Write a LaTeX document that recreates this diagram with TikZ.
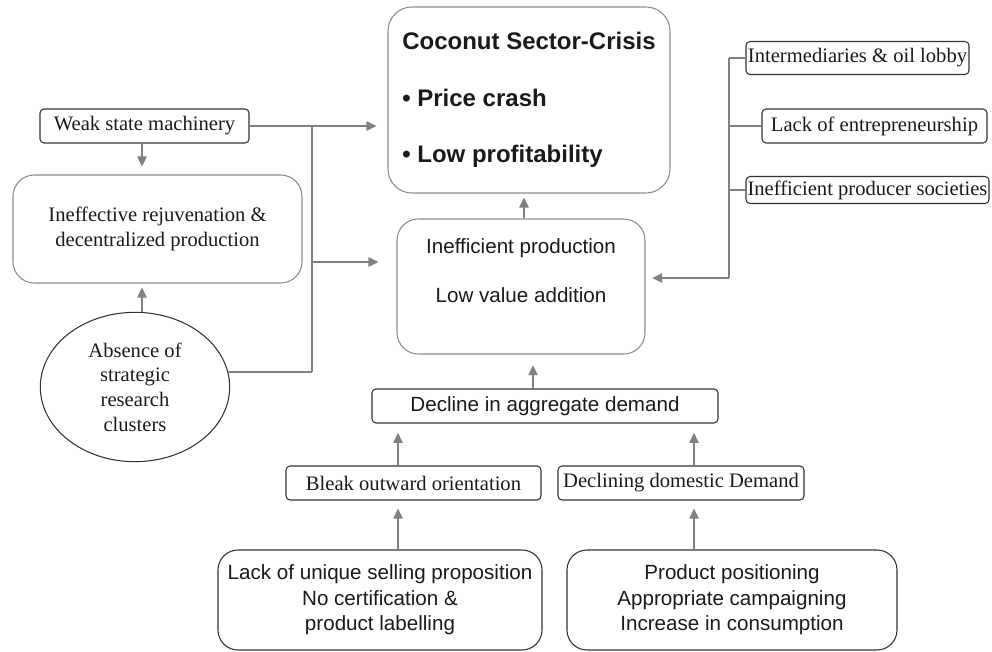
\documentclass[tikz,border=0pt]{standalone}
\usepackage{fontspec}
\setmainfont{Liberation Serif}
\setsansfont{Liberation Sans}
\usetikzlibrary{arrows.meta,calc,shapes.geometric}
\definecolor{linegray}{HTML}{808080}
\definecolor{boxgray}{HTML}{8C8C8C}
\definecolor{boxdark}{HTML}{333333}
\definecolor{ink}{HTML}{1A1A1A}
\begin{document}
\begin{tikzpicture}[x=0.75pt,y=-0.75pt,
  every node/.style={text=ink},
  tagbox/.style={draw=boxdark, line width=0.8pt, rounded corners=3pt, inner sep=0pt,
    minimum height=25.5pt, font=\fontsize{15.45}{18.75}\selectfont},
  softbox/.style={draw=boxgray, line width=0.8pt, rounded corners=16pt, inner sep=0pt, align=center},
  darkbox/.style={draw=boxdark, line width=0.8pt, rounded corners=15pt, inner sep=0pt, align=center,
    minimum width=243pt, minimum height=75pt, font=\sffamily\fontsize{15.45}{19.1}\selectfont},
  link/.style={draw=linegray, line width=1.1pt},
  arr/.style={link, -{Triangle[length=7.5pt,width=7pt]}},
]
\useasboundingbox (0,0) rectangle (992,652);

% central chain
\node[softbox, align=left, rounded corners=18pt, minimum width=211.5pt, minimum height=139.5pt,
  font=\sffamily\bfseries\fontsize{18}{42.4}\selectfont] (crisis) at (529,100)
  {Coconut Sector-Crisis\\\textbullet{} Price crash\\\textbullet{} Low profitability};
\node[softbox, minimum width=186pt, minimum height=101.25pt,
  font=\sffamily\fontsize{15.45}{18.4}\selectfont] (prod) at (521,286.5)
  {Inefficient production\\\strut\\Low value addition\\\strut};
\node[tagbox, minimum width=259.5pt, font=\sffamily\fontsize{15.45}{18.75}\selectfont] (decline) at (545,406)
  {Decline in aggregate demand};
\node[tagbox, minimum width=191.25pt] (bleak) at (413.5,483) {Bleak outward orientation};
\node[tagbox, minimum width=184.5pt] (domestic) at (681,483) {Declining domestic Demand};
\node[darkbox] (usp) at (380,600)
  {Lack of unique selling proposition\\No certification \&\\product labelling};
\node[darkbox, minimum width=247.5pt] (campaign) at (732,600)
  {Product positioning\\Appropriate campaigning\\Increase in consumption};

% left side
\node[tagbox, minimum width=156.75pt] (weak) at (144.5,126) {Weak state machinery};
\node[softbox, minimum width=216.75pt, minimum height=81pt,
  font=\fontsize{15.45}{18.75}\selectfont] (rejuv) at (157.5,229)
  {Ineffective rejuvenation \&\\decentralized production};
\node[draw=boxdark, line width=0.8pt, ellipse, inner sep=0pt, minimum width=142pt, minimum height=112pt,
  align=center, font=\fontsize{15.45}{18.5}\selectfont] (absence) at (135,387)
  {Absence of\\strategic\\research\\clusters};

% right side
\node[tagbox, minimum width=167.25pt, minimum height=24.75pt] (lobby) at (857.5,58)
  {Intermediaries \& oil lobby};
\node[tagbox, minimum width=168.75pt] (entre) at (874.5,126) {Lack of entrepreneurship};
\node[tagbox, minimum width=182.25pt, minimum height=20.25pt] (societies) at (867.5,190)
  {Inefficient producer societies};

% junctions of the connector trunks
\coordinate (ltop) at (312,126);
\coordinate (lmid) at (312,262);
\coordinate (lbot) at (312,372);
\coordinate (rbot) at (729,278);

% feet of the vertical arrows
\coordinate (weakfoot) at ($(weak.south)+(-2.5,0)$);
\coordinate (absfoot) at ($(absence.north)+(7,0.5)$);
\coordinate (prodfoot) at ($(prod.north)+(3,0)$);
\coordinate (declfoot) at ($(decline.north)+(-12,0)$);
\coordinate (bleakfoot) at ($(bleak.north)+(-15.5,0)$);
\coordinate (domfoot) at ($(domestic.north)+(13,0)$);
\coordinate (uspfoot) at ($(usp.north)+(18,0)$);
\coordinate (campfoot) at ($(campaign.north)+(-38,0)$);

% left trunk
\draw[arr, shorten >=8.25pt] (weak.east) -- (weak.east -| crisis.west);
\draw[link] (ltop) -- (lbot);
\draw[link] (absence.9) -- (absence.9 -| lbot);
\draw[arr, shorten >=13.5pt] (lmid) -- (lmid -| prod.west);
\draw[arr, shorten >=6pt] (weakfoot) -- (weakfoot |- rejuv.north);
\draw[arr, shorten >=3pt] (absfoot) -- (absfoot |- rejuv.south);

% right trunk
\draw[link] (lobby.west -| rbot) -- (rbot);
\draw[link] (lobby.west) -- (lobby.west -| rbot);
\draw[link] (entre.west) -- (entre.west -| rbot);
\draw[link] (societies.west) -- (societies.west -| rbot);
\draw[arr, shorten >=5pt] (rbot) -- (rbot -| prod.east);

% upward chain
\draw[arr, shorten >=3pt] (prodfoot) -- (prodfoot |- crisis.south);
\draw[arr, shorten >=8pt] (declfoot) -- (declfoot |- prod.south);
\draw[arr, shorten >=7pt] (bleakfoot) -- (bleakfoot |- decline.south);
\draw[arr, shorten >=7pt] (domfoot) -- (domfoot |- decline.south);
\draw[arr, shorten >=6pt] (uspfoot) -- (uspfoot |- bleak.south);
\draw[arr, shorten >=6pt] (campfoot) -- (campfoot |- domestic.south);
\end{tikzpicture}
\end{document}
